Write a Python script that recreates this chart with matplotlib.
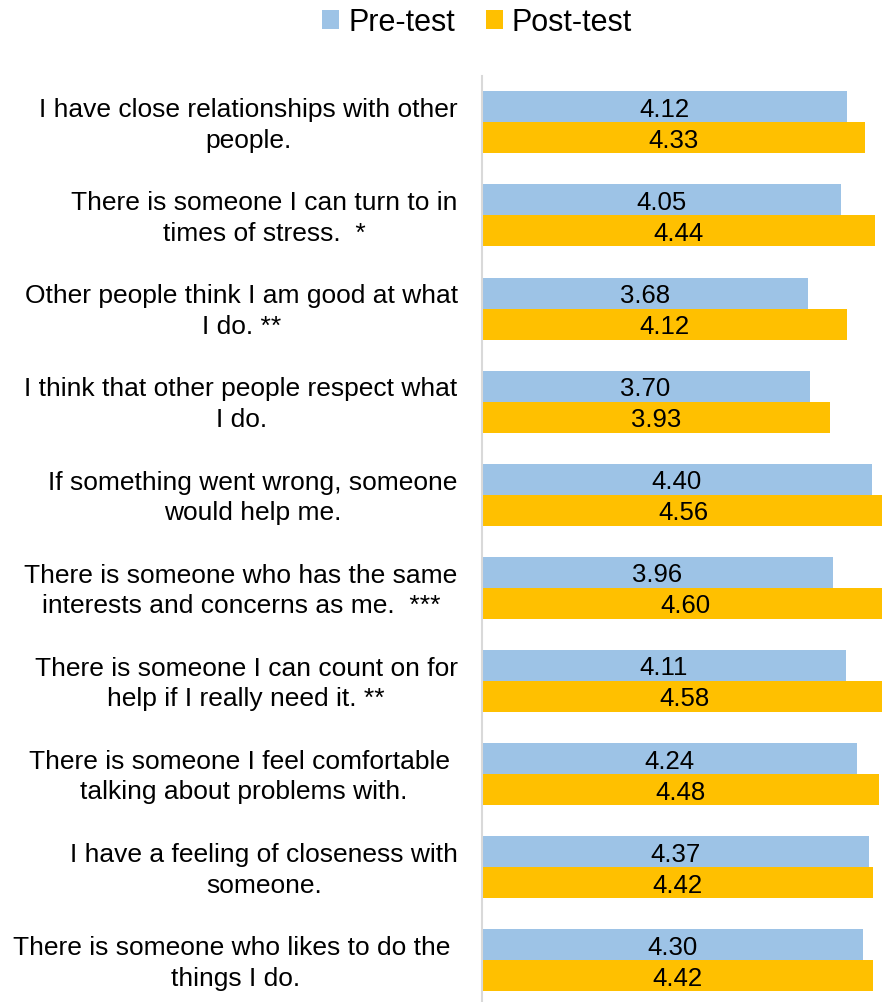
import matplotlib
matplotlib.use("Agg")
import matplotlib.pyplot as plt
from matplotlib.patches import Patch

plt.rcParams['font.family'] = ['Liberation Sans', 'DejaVu Sans']

categories = [
    "I have close relationships with other\npeople.",
    "There is someone I can turn to in\ntimes of stress.  *",
    "Other people think I am good at what\nI do. **",
    "I think that other people respect what\nI do.",
    "If something went wrong, someone\nwould help me.",
    "There is someone who has the same\ninterests and concerns as me.  ***",
    "There is someone I can count on for\nhelp if I really need it. **",
    "There is someone I feel comfortable \ntalking about problems with.",
    "I have a feeling of closeness with\nsomeone.",
    "There is someone who likes to do the \nthings I do.",
]
pre_test = [4.12, 4.05, 3.68, 3.70, 4.40, 3.96, 4.11, 4.24, 4.37, 4.30]
post_test = [4.33, 4.44, 4.12, 3.93, 4.56, 4.60, 4.58, 4.48, 4.42, 4.42]
series_names = ["Pre-test", "Post-test"]

PRE_COLOR = "#9DC3E6"
POST_COLOR = "#FFC000"

W, H = 882, 1003
fig = plt.figure(figsize=(W / 100, H / 100), dpi=100)
ax = fig.add_axes([481.7 / W, (H - 1008) / H, 443 / W, (1008 - 76.75) / H])

bar_h = 1 / 3
pos = list(range(len(categories)))
pre_pos = [p - bar_h / 2 for p in pos]
post_pos = [p + bar_h / 2 for p in pos]

pre_bars = ax.barh(pre_pos, pre_test, height=bar_h, color=PRE_COLOR, zorder=2)
post_bars = ax.barh(post_pos, post_test, height=bar_h, color=POST_COLOR, zorder=2)

for bars, vals in ((pre_bars, pre_test), (post_bars, post_test)):
    for b, v in zip(bars, vals):
        ax.text(b.get_width() / 2, b.get_y() + b.get_height() / 2 + 0.02,
                f"{v:.2f}", ha="center", va="center", fontsize=18.5,
                color="black", zorder=3)

ax.set_xlim(0, 5)
ax.set_ylim(len(categories) - 0.5, -0.5)
ax.set_xticks([])
ax.set_yticks([])
for side in ("top", "right", "bottom"):
    ax.spines[side].set_visible(False)
ax.spines["left"].set_color("#D9D9D9")
ax.spines["left"].set_linewidth(1.5)

for p, lab in zip(pos, categories):
    ax.annotate(lab, xy=(0, p), xycoords=("axes fraction", "data"),
                xytext=(-24, -2), textcoords="offset pixels",
                ha="right", va="center", multialignment="center",
                fontsize=19, linespacing=1.34, color="black")

handles = [Patch(facecolor=PRE_COLOR, edgecolor="none"),
           Patch(facecolor=POST_COLOR, edgecolor="none")]
fig.legend(handles, series_names, loc="center", bbox_to_anchor=(477 / W, 1 - 23 / H),
           ncol=2, frameon=False, fontsize=22, handlelength=0.56, handleheight=0.56,
           handletextpad=0.3, columnspacing=1.0, borderpad=0, borderaxespad=0)

fig.savefig("out.png", dpi=100)
